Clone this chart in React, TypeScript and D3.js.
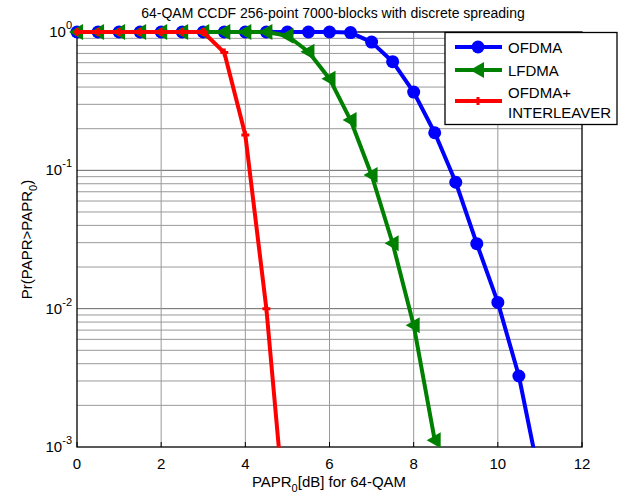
import React, { useRef, useEffect } from "react";
import * as d3 from "d3";

const ofdmaX = [0, 0.5, 1, 1.5, 2, 2.5, 3, 3.5, 4, 4.5, 5, 5.5, 6, 6.5, 7, 7.5, 8, 8.5, 9, 9.5, 10, 10.5, 11];
const ofdmaY = [1, 1, 1, 1, 1, 1, 1, 1, 1, 1, 1, 1, 1, 0.99, 0.845, 0.61, 0.368, 0.187, 0.082, 0.0295, 0.0111, 0.00326, 0.00058];

const lfdmaX = [0, 0.5, 1, 1.5, 2, 2.5, 3, 3.5, 4, 4.5, 5, 5.5, 6, 6.5, 7, 7.5, 8, 8.5];
const lfdmaY = [1, 1, 1, 1, 1, 1, 1, 1, 1, 1, 0.94, 0.72, 0.46, 0.231, 0.0925, 0.0297, 0.0076, 0.00112];

const interX = [0, 0.5, 1, 1.5, 2, 2.5, 3, 3.5, 4, 4.5, 5];
const interY = [1, 1, 1, 1, 1, 1, 1, 0.71, 0.18, 0.01, 0.0002];

const xTicks = [0, 2, 4, 6, 8, 10, 12];
const yDecades = [0, -1, -2, -3];
const legendLabels = [["OFDMA"], ["LFDMA"], ["OFDMA+", "INTERLEAVER"]];

const FONT = "'Liberation Sans', Arial, sans-serif";

function App() {
  const svgRef = useRef<SVGSVGElement>(null);

  useEffect(() => {
    if (!svgRef.current) return;
    const svg = d3.select(svgRef.current);
    svg.selectAll("*").remove();
    const width = 626;
    const height = 497;
    const left = 77, right = 582, top = 32, bottom = 447;

    const x = d3.scaleLinear().domain([0, 12]).range([left, right]);
    const y = d3.scaleLog().domain([1e-3, 1]).range([bottom, top]);

    svg.attr("width", width).attr("height", height);
    svg.append("rect").attr("width", width).attr("height", height).attr("fill", "white");

    // grid
    const grid = svg.append("g");
    const minor: number[] = [];
    for (let e = -3; e < 0; e++) {
      for (let m = 2; m <= 9; m++) minor.push(m * Math.pow(10, e));
    }
    grid.selectAll("line.minor").data(minor).enter().append("line")
      .attr("x1", left).attr("x2", right)
      .attr("y1", (d) => y(d)).attr("y2", (d) => y(d))
      .attr("stroke", "#999").attr("stroke-width", 1);
    grid.selectAll("line.majy").data(yDecades.slice(1, 3)).enter().append("line")
      .attr("x1", left).attr("x2", right)
      .attr("y1", (d) => y(Math.pow(10, d))).attr("y2", (d) => y(Math.pow(10, d)))
      .attr("stroke", "#666").attr("stroke-width", 1);
    grid.selectAll("line.vx").data(xTicks.slice(1, 6)).enter().append("line")
      .attr("x1", (d) => x(d)).attr("x2", (d) => x(d))
      .attr("y1", top).attr("y2", bottom)
      .attr("stroke", "#999").attr("stroke-width", 1);

    // axes box
    svg.append("rect")
      .attr("x", left).attr("y", top)
      .attr("width", right - left).attr("height", bottom - top)
      .attr("fill", "none").attr("stroke", "black").attr("stroke-width", 1.3);

    // ticks
    svg.selectAll("line.xt").data(xTicks).enter().append("line")
      .attr("x1", (d) => x(d)).attr("x2", (d) => x(d))
      .attr("y1", bottom).attr("y2", bottom - 5)
      .attr("stroke", "black");
    svg.selectAll("text.xt").data(xTicks).enter().append("text")
      .attr("x", (d) => x(d)).attr("y", bottom + 22)
      .attr("text-anchor", "middle")
      .attr("font-family", FONT).attr("font-size", 15)
      .text((d) => d);

    yDecades.forEach((e) => {
      const t = svg.append("text")
        .attr("x", left - 5).attr("y", y(Math.pow(10, e)) + 5)
        .attr("text-anchor", "end")
        .attr("font-family", FONT).attr("font-size", 15);
      t.append("tspan").text("10");
      t.append("tspan").attr("dy", -8).attr("font-size", 11).text(e);
    });

    // labels
    svg.append("text").attr("x", 333).attr("y", 18)
      .attr("text-anchor", "middle").attr("font-family", FONT).attr("font-size", 14)
      .text("64-QAM CCDF 256-point 7000-blocks with discrete spreading");

    const xl = svg.append("text").attr("x", 329).attr("y", 487)
      .attr("text-anchor", "middle").attr("font-family", FONT).attr("font-size", 15);
    xl.append("tspan").text("PAPR");
    xl.append("tspan").attr("dy", 5).attr("font-size", 11).text("0");
    xl.append("tspan").attr("dy", -5).text("[dB]  for 64-QAM");

    const yl = svg.append("text")
      .attr("transform", `translate(32,${(top + bottom) / 2}) rotate(-90)`)
      .attr("text-anchor", "middle").attr("font-family", FONT).attr("font-size", 15);
    yl.append("tspan").text("Pr(PAPR>PAPR");
    yl.append("tspan").attr("dy", 5).attr("font-size", 11).text("0");
    yl.append("tspan").attr("dy", -5).text(")");

    // data
    svg.append("defs").append("clipPath").attr("id", "plotclip")
      .append("rect").attr("x", 0).attr("y", 0).attr("width", width).attr("height", bottom + 0.5);
    const plot = svg.append("g").attr("clip-path", "url(#plotclip)");

    const line = d3.line<[number, number]>().x((d) => x(d[0])).y((d) => y(d[1]));
    const ofdma: [number, number][] = ofdmaX.map((v, i) => [v, ofdmaY[i]]);
    const lfdma: [number, number][] = lfdmaX.map((v, i) => [v, lfdmaY[i]]);
    const inter: [number, number][] = interX.map((v, i) => [v, interY[i]]);

    const tri = (cx: number, cy: number, s: number) =>
      `M${cx - s},${cy} L${cx + s * 0.75},${cy - s} L${cx + s * 0.75},${cy + s} Z`;
    const plus = (cx: number, cy: number, s: number) =>
      `M${cx - s},${cy} H${cx + s} M${cx},${cy - s} V${cy + s}`;

    // blue
    plot.append("path").attr("d", line(ofdma)).attr("fill", "none")
      .attr("stroke", "#0000ff").attr("stroke-width", 4).attr("stroke-linejoin", "round");
    plot.selectAll("circle.of").data(ofdma).enter().append("circle")
      .attr("cx", (d) => x(d[0])).attr("cy", (d) => y(d[1])).attr("r", 6.5)
      .attr("fill", "#0000ff");

    // green
    plot.append("path").attr("d", line(lfdma)).attr("fill", "none")
      .attr("stroke", "#008000").attr("stroke-width", 4).attr("stroke-linejoin", "round");
    plot.selectAll("path.lf").data(lfdma).enter().append("path")
      .attr("d", (d) => tri(x(d[0]), y(d[1]), 8)).attr("fill", "#008000");

    // red
    plot.append("path").attr("d", line(inter)).attr("fill", "none")
      .attr("stroke", "#ff0000").attr("stroke-width", 4).attr("stroke-linejoin", "round");
    plot.selectAll("path.in").data(inter).enter().append("path")
      .attr("d", (d) => plus(x(d[0]), y(d[1]), 4)).attr("stroke", "#ff0000")
      .attr("stroke-width", 3).attr("fill", "none");

    // legend
    const lg = svg.append("g");
    lg.append("rect").attr("x", 445).attr("y", 32.5).attr("width", 172).attr("height", 92)
      .attr("fill", "white").attr("stroke", "black").attr("stroke-width", 1.3);
    const colors = ["#0000ff", "#008000", "#ff0000"];
    const rowsY = [47, 70, 101];
    legendLabels.forEach((lab, i) => {
      const ly = rowsY[i];
      lg.append("line").attr("x1", 455).attr("x2", 502).attr("y1", ly).attr("y2", ly)
        .attr("stroke", colors[i]).attr("stroke-width", 4);
      if (i === 0) lg.append("circle").attr("cx", 478).attr("cy", ly).attr("r", 6.5).attr("fill", colors[i]);
      if (i === 1) lg.append("path").attr("d", tri(478, ly, 8)).attr("fill", colors[i]);
      if (i === 2) lg.append("path").attr("d", plus(478, ly, 4)).attr("stroke", colors[i]).attr("stroke-width", 3);
      const t = lg.append("text").attr("font-family", FONT).attr("font-size", 15);
      if (lab.length === 1) {
        t.attr("x", 508).attr("y", ly + 5.5).text(lab[0]);
      } else {
        t.append("tspan").attr("x", 508).attr("y", 97.5).text(lab[0]);
        t.append("tspan").attr("x", 508).attr("y", 118).text(lab[1]);
      }
    });
  }, []);

  return (
    <div style={{ position: "absolute", left: 0, top: 0 }}>
      <svg ref={svgRef} style={{ display: "block" }}></svg>
    </div>
  );
}

export default App;
